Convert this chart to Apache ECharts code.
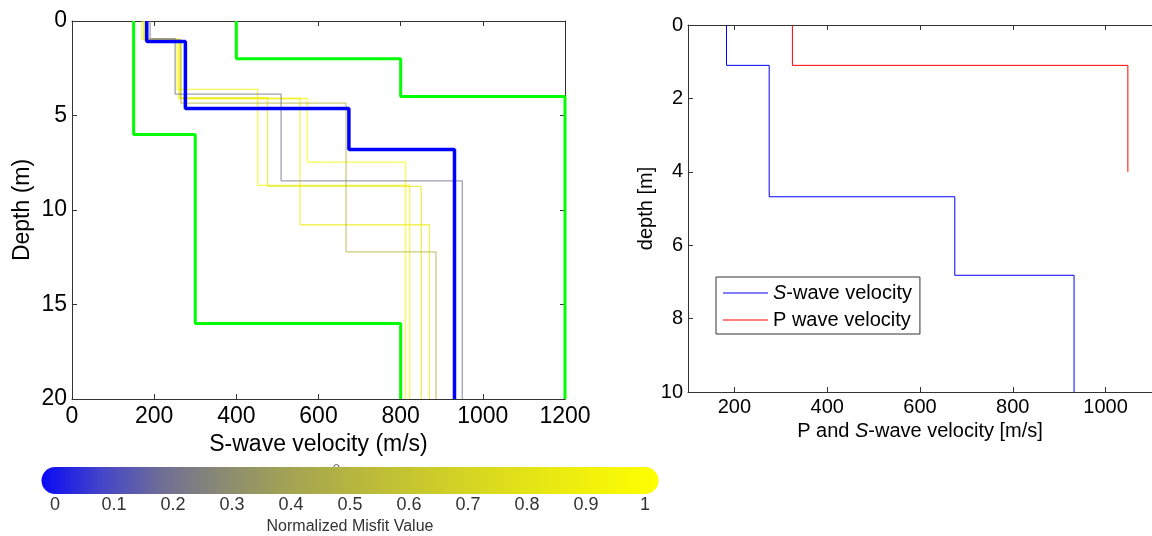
<!DOCTYPE html>
<html><head><meta charset="utf-8">
<script src="https://cdn.jsdelivr.net/npm/echarts@6/dist/echarts.min.js"></script>
<style>html,body{margin:0;padding:0;background:#fff}#c{width:1152px;height:536px}</style>
</head><body><div id="c"></div>
<script>
const FONT = 'Liberation Sans, Arial, Helvetica, sans-serif';
const NARROW = 'Liberation Sans Narrow, Arial Narrow, Liberation Sans, Arial, sans-serif';

// ---- Left panel: inversion results (velocity per layer, layer bottom depth) ----
const bestVel = [182, 276, 674, 931];
const bestBottom = [1.08, 4.63, 6.8, 20];
const lowerVel = [150, 300, 800];
const lowerBottom = [6, 16, 20];
const upperVel = [400, 800, 1200];
const upperBottom = [2, 4, 20];

const modelVelA = [175, 261, 573, 812];
const modelBotA = [1.0, 4.1, 7.47, 20];
const modelVelB = [178, 256, 452, 822];
const modelBotB = [1.0, 3.62, 8.7, 20];
const modelVelC = [175, 265, 476, 850];
const modelBotC = [1.0, 4.05, 8.75, 20];
const modelVelD = [170, 261, 555, 870];
const modelBotD = [0.95, 4.1, 10.78, 20];
const modelVelE = [178, 265, 667, 886];
const modelBotE = [1.0, 4.34, 12.22, 20];
const modelVelF = [190, 251, 509, 950];
const modelBotF = [0.93, 3.87, 8.46, 20];
const modelMisfit = [0.95, 0.9, 0.8, 0.85, 0.5, 0.22];

// ---- Right panel: final profile ----
const sVel = [183, 275, 675, 932];
const sBottom = [1.1, 4.68, 6.82, 10];
const pVel = [325, 1048];
const pBottom = [1.1, 4.0];
const rightXTicks = [200, 400, 600, 800, 1000];

// ---- Colorbar ----
const misfitTicks = [0, 0.1, 0.2, 0.3, 0.4, 0.5, 0.6, 0.7, 0.8, 0.9, 1];
const markerMisfit = 0.477;
const cmapPos = [0, 0.1, 0.2, 0.3, 0.4, 0.5, 0.6, 0.7, 0.8, 0.9, 1];
const cmapRGB = [[10,10,245],[70,70,200],[112,112,148],[140,140,112],[163,163,84],[181,181,64],[198,198,48],[214,214,34],[229,229,22],[243,243,10],[255,255,0]];

function steps(vel, bottom) {
  const pts = []; let top = 0;
  vel.forEach((v, i) => { pts.push([v, top]); pts.push([v, bottom[i]]); top = bottom[i]; });
  return pts;
}
function cmap(t) {
  for (let i = 1; i < cmapPos.length; i++) {
    if (t <= cmapPos[i]) {
      const f = (t - cmapPos[i-1]) / (cmapPos[i] - cmapPos[i-1]);
      const a = cmapRGB[i-1], b = cmapRGB[i];
      return 'rgb(' + [0,1,2].map(k => Math.round(a[k] + (b[k]-a[k]) * f)).join(',') + ')';
    }
  }
  return 'rgb(255,255,0)';
}

const models = [
  [modelVelA, modelBotA], [modelVelB, modelBotB], [modelVelC, modelBotC],
  [modelVelD, modelBotD], [modelVelE, modelBotE], [modelVelF, modelBotF]
];

const axisLineStyle = { color: '#333', width: 1 };
const axLine = { show: true, onZero: false, lineStyle: axisLineStyle };
const plain = v => String(v);
const series = [];
models.forEach((m, i) => {
  series.push({
    type: 'line', xAxisIndex: 0, yAxisIndex: 0, name: 'model' + i,
    data: steps(m[0], m[1]), symbol: 'none', silent: true,
    lineStyle: { color: cmap(modelMisfit[i]), width: 1.3, opacity: 0.7 }
  });
});
series.push({ type: 'line', xAxisIndex: 0, yAxisIndex: 0, name: 'lower', data: steps(lowerVel, lowerBottom),
  symbol: 'none', clip: false, lineStyle: { color: '#00ff00', width: 3 } });
series.push({ type: 'line', xAxisIndex: 0, yAxisIndex: 0, name: 'upper', data: steps(upperVel, upperBottom),
  symbol: 'none', clip: false, lineStyle: { color: '#00ff00', width: 3 } });
series.push({ type: 'line', xAxisIndex: 0, yAxisIndex: 0, name: 'best', data: steps(bestVel, bestBottom),
  symbol: 'none', clip: false, lineStyle: { color: '#0000ff', width: 3.5 } });
// right
series.push({ type: 'line', xAxisIndex: 2, yAxisIndex: 2, name: 'S-wave velocity', data: steps(sVel, sBottom),
  symbol: 'none', lineStyle: { color: '#0000ff', width: 1 }, itemStyle: { color: '#0000ff' } });
series.push({ type: 'line', xAxisIndex: 2, yAxisIndex: 2, name: 'P wave velocity', data: steps(pVel, pBottom),
  symbol: 'none', lineStyle: { color: '#ff0000', width: 1 }, itemStyle: { color: '#ff0000' } });
// colorbar
series.push({ type: 'line', xAxisIndex: 4, yAxisIndex: 4, name: 'colorbar',
  data: [[misfitTicks[0], 0.5], [misfitTicks[misfitTicks.length-1], 0.5]], symbol: 'none', clip: false, silent: true,
  lineStyle: { width: 27, cap: 'round',
    color: new echarts.graphic.LinearGradient(0, 0, 1, 0, cmapPos.map((p, i) => ({ offset: p, color: cmap(p) }))) } });
series.push({ type: 'scatter', xAxisIndex: 4, yAxisIndex: 4, name: 'marker', data: [[markerMisfit, 1]],
  symbol: 'circle', symbolSize: 5, clip: false, silent: true,
  itemStyle: { color: '#fff', borderColor: '#333', borderWidth: 1 } });

const leftLabel = { fontFamily: FONT, fontSize: 23, color: '#000' };
const rightLabel = { fontFamily: FONT, fontSize: 20, color: '#000' };
const tickIn = { show: true, inside: true, length: 5, lineStyle: axisLineStyle };

const option = {
  animation: false,
  backgroundColor: '#fff',
  grid: [
    { left: 72, top: 21, right: 587, bottom: 137, containLabel: false },
    { left: 688, top: 25, right: -5, bottom: 144, containLabel: false },
    { left: 55, right: 507, top: 467, height: 27, containLabel: false }
  ],
  xAxis: [
    { gridIndex: 0, type: 'value', min: 0, max: 1200, interval: 200, position: 'bottom',
      name: 'S-wave velocity (m/s)', nameLocation: 'middle', nameGap: 33,
      nameTextStyle: leftLabel,
      axisLine: axLine, axisTick: tickIn,
      axisLabel: Object.assign({ margin: 6, formatter: plain }, leftLabel), splitLine: { show: false } },
    { gridIndex: 0, type: 'value', min: 0, max: 1200, interval: 200, position: 'top',
      axisLine: axLine, axisTick: tickIn,
      axisLabel: { show: false }, splitLine: { show: false } },
    { gridIndex: 1, type: 'value', min: 100, max: 1100, position: 'bottom',
      name: 'P and {i|S}-wave velocity [m/s]', nameLocation: 'middle', nameGap: 28,
      nameTextStyle: Object.assign({ rich: { i: { fontFamily: FONT, fontSize: 20, fontStyle: 'italic', color: '#000' } } }, rightLabel),
      axisLine: axLine,
      axisTick: Object.assign({ customValues: rightXTicks }, tickIn),
      axisLabel: Object.assign({ margin: 5, customValues: rightXTicks, formatter: plain }, rightLabel), splitLine: { show: false } },
    { gridIndex: 1, type: 'value', min: 100, max: 1100, position: 'top',
      axisLine: axLine,
      axisTick: Object.assign({ customValues: rightXTicks }, tickIn),
      axisLabel: { show: false }, splitLine: { show: false } },
    { gridIndex: 2, type: 'value', min: 0, max: 1, interval: 0.1, position: 'bottom',
      name: 'Normalized Misfit Value', nameLocation: 'middle', nameGap: 25,
      nameTextStyle: { fontFamily: FONT, fontSize: 16, color: '#333' },
      axisLine: { show: false, onZero: false }, axisTick: { show: false },
      axisLabel: { margin: 2, fontFamily: NARROW, fontSize: 18, color: '#333' }, splitLine: { show: false } }
  ],
  yAxis: [
    { gridIndex: 0, type: 'value', min: 0, max: 20, interval: 5, inverse: true, position: 'left',
      name: 'Depth (m)', nameLocation: 'middle', nameGap: 38, nameTextStyle: leftLabel,
      axisLine: axLine, axisTick: tickIn,
      axisLabel: Object.assign({ margin: 5 }, leftLabel), splitLine: { show: false } },
    { gridIndex: 0, type: 'value', min: 0, max: 20, interval: 5, inverse: true, position: 'right',
      axisLine: axLine, axisTick: tickIn,
      axisLabel: { show: false }, splitLine: { show: false } },
    { gridIndex: 1, type: 'value', min: 0, max: 10, interval: 2, inverse: true, position: 'left',
      name: 'depth [m]', nameLocation: 'middle', nameGap: 32, nameTextStyle: rightLabel,
      axisLine: axLine, axisTick: tickIn,
      axisLabel: Object.assign({ margin: 5 }, rightLabel), splitLine: { show: false } },
    { gridIndex: 1, type: 'value', min: 0, max: 10, interval: 2, inverse: true, position: 'right',
      axisLine: axLine, axisTick: { show: false },
      axisLabel: { show: false }, splitLine: { show: false } },
    { gridIndex: 2, type: 'value', min: 0, max: 1, show: false, axisLine: { onZero: false } }
  ],
  legend: {
    data: ['S-wave velocity', 'P wave velocity'],
    orient: 'vertical', left: 716, top: 277, padding: [6, 8, 4, 7],
    icon: 'rect', itemWidth: 45, itemHeight: 1, itemGap: 7,
    itemStyle: { borderWidth: 0 },
    borderColor: '#333', borderWidth: 1, backgroundColor: '#fff',
    formatter: n => n === 'S-wave velocity' ? '{i|S}-wave velocity' : n,
    textStyle: { fontFamily: FONT, fontSize: 20, color: '#000', lineHeight: 20,
      rich: { i: { fontFamily: FONT, fontSize: 20, fontStyle: 'italic', color: '#000', lineHeight: 20 } } }
  },
  series: series
};
const chart = echarts.init(document.getElementById('c'), null, { renderer: 'canvas' });
chart.setOption(option);
</script>
</body></html>
